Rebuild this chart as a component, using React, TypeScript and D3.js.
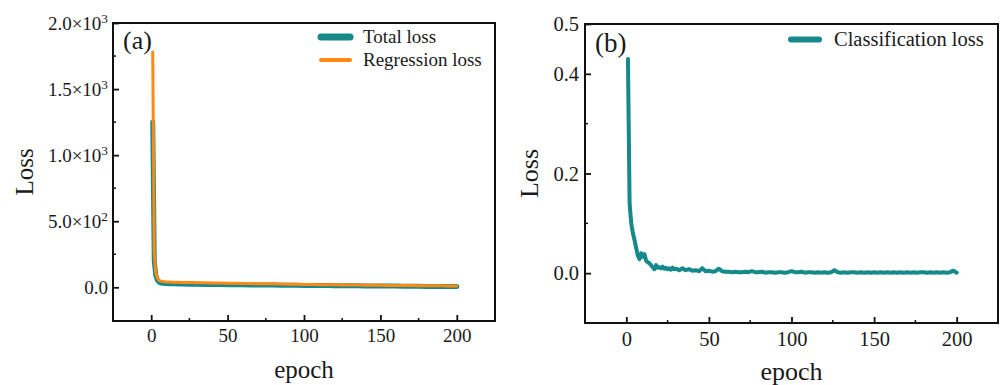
import * as d3 from 'd3';
import { useEffect, useRef } from 'react';

const TEAL = '#16898a';
const ORANGE = '#ff8912';
const FONT = '"Liberation Serif", "Times New Roman", serif';

// panel (a): total / regression loss, sampled epochs
const regEpochs = [1, 2, 3, 4, 5, 6, 7, 8, 9, 10, 12, 14, 16, 18, 20, 25, 30, 35, 40, 45, 50, 55, 60, 65, 70, 75, 80, 85, 90, 95, 100,
  105, 110, 115, 120, 125, 130, 135, 140, 145, 150, 155, 160, 165, 170, 175, 180, 185, 190, 195, 200];
const totalLoss = [1250, 200, 90, 55, 40, 34, 31, 30, 29, 28, 27, 26, 26, 25, 25, 24, 23, 22, 22, 21, 20, 20, 19, 18, 18, 17, 17, 16, 15, 15, 14,
  14, 13, 13, 12, 12, 11, 11, 10, 10, 9, 9, 9, 8, 8, 8, 7, 7, 6, 6, 6];
const regressionLoss = [1780, 260, 110, 70, 55, 48, 45, 43, 42, 41, 40, 39, 38, 38, 37, 36, 35, 34, 33, 32, 31, 30, 29, 28, 27, 27, 26, 25, 24, 23, 22,
  21, 20, 20, 19, 18, 18, 17, 16, 16, 15, 14, 14, 13, 13, 12, 12, 11, 11, 10, 10];
const aYTicks = [0, 500, 1000, 1500, 2000];
const aYMinor = [250, 750, 1250, 1750];

// panel (b): classification loss
const clsEpochs = [1, 2, 3, 4, 5, 6, 7, 8, 9, 10, 11, 12, 13, 14, 15, 16, 17, 18, 19, 20, 21, 22, 23, 24, 25, 26, 27, 28, 29, 30,
  32, 34, 36, 38, 40, 42, 44, 46, 48, 50, 52, 54, 56, 58, 60, 62, 64, 66, 68, 70, 72, 74, 76, 78, 80, 82, 84, 86, 88, 90,
  92, 94, 96, 98, 100, 102, 104, 106, 108, 110, 112, 114, 116, 118, 120, 122, 124, 126, 128, 130, 132, 134, 136, 138, 140,
  142, 144, 146, 148, 150, 152, 154, 156, 158, 160, 162, 164, 166, 168, 170, 172, 174, 176, 178, 180, 182, 184, 186, 188, 190,
  192, 194, 196, 198, 200];
const clsLoss = [0.43, 0.14, 0.1, 0.08, 0.066, 0.05, 0.035, 0.028, 0.04, 0.033, 0.038, 0.025, 0.022, 0.02, 0.016, 0.012, 0.008, 0.016, 0.011, 0.012,
  0.01, 0.013, 0.009, 0.011, 0.008, 0.01, 0.007, 0.011, 0.008, 0.009,
  0.006, 0.01, 0.006, 0.008, 0.005, 0.006, 0.004, 0.01, 0.004, 0.005, 0.003, 0.004, 0.009, 0.004, 0.003, 0.003, 0.002, 0.003, 0.002, 0.002,
  0.003, 0.002, 0.004, 0.002, 0.002, 0.003, 0.001, 0.002, 0.002, 0.001,
  0.002, 0.002, 0.001, 0.002, 0.004, 0.002, 0.002, 0.003, 0.001, 0.002, 0.002, 0.001, 0.002, 0.001, 0.002, 0.001, 0.002, 0.006, 0.002, 0.001,
  0.002, 0.001, 0.002, 0.002, 0.001, 0.002, 0.001, 0.002, 0.001, 0.002, 0.001, 0.002, 0.001, 0.002, 0.001, 0.002, 0.001, 0.002, 0.001, 0.002,
  0.001, 0.002, 0.001, 0.002, 0.002, 0.001, 0.002, 0.001, 0.002, 0.001, 0.002, 0.001, 0.002, 0.005, 0.001];
const bYTicks = [0, 0.2, 0.4, 0.5];
const bYMinor = [0.1, 0.3];

const xTicks = [0, 50, 100, 150, 200];
const xMinor = [25, 75, 125, 175];

function drawPanel(svg: any, c: any) {
  const x = d3.scaleLinear().domain([-25, 225]).range([c.left, c.right]);
  const y = d3.scaleLinear().domain(c.yDomain).range([c.bottom, c.top]);
  const g = svg.append('g');

  // minor ticks first
  g.selectAll('.mx').data(xMinor).enter().append('line')
    .attr('x1', (d: number) => x(d)).attr('x2', (d: number) => x(d))
    .attr('y1', c.bottom).attr('y2', c.bottom - 3).attr('stroke', '#111').attr('stroke-width', 1.5);
  g.selectAll('.my').data(c.yMinor).enter().append('line')
    .attr('y1', (d: number) => y(d)).attr('y2', (d: number) => y(d))
    .attr('x1', c.left).attr('x2', c.left + 3).attr('stroke', '#111').attr('stroke-width', 1.5);

  const ax = g.append('g').attr('transform', `translate(0,${c.bottom})`)
    .call(d3.axisBottom(x).tickValues(xTicks).tickSize(-6).tickPadding(c.xPad).tickFormat(d3.format('d')));
  const ay = g.append('g').attr('transform', `translate(${c.left},0)`)
    .call(d3.axisLeft(y).tickValues(c.yTicks).tickSize(-6).tickPadding(c.yPad).tickFormat(d3.format('.1f')));
  [ax, ay].forEach(a => {
    a.select('.domain').remove();
    a.selectAll('line').attr('stroke', '#111').attr('stroke-width', 1.8);
    a.selectAll('text').attr('font-family', FONT).attr('font-size', c.fs).attr('fill', '#1a1a1a');
  });
  if (c.sci) {
    ay.selectAll('.tick text').each(function (this: any, d: any) {
      const t = d3.select(this).text(null);
      if (d === 0) { t.text('0.0'); return; }
      const e = Math.floor(Math.log10(d));
      t.append('tspan').text((d / Math.pow(10, e)).toFixed(1) + '×10');
      t.append('tspan').attr('dy', '-0.5em').attr('font-size', '0.7em').text(e);
    });
  }

  // frame
  g.append('rect').attr('x', c.left).attr('y', c.top)
    .attr('width', c.right - c.left).attr('height', c.bottom - c.top)
    .attr('fill', 'none').attr('stroke', '#111').attr('stroke-width', 2);

  const line = d3.line<number>().x((_, i) => x(c.epochs[i])).y(d => y(d));
  c.series.forEach((s: any) => {
    g.append('path').attr('d', line(s.values)).attr('fill', 'none')
      .attr('stroke', s.color).attr('stroke-width', s.w)
      .attr('stroke-linejoin', 'round').attr('stroke-linecap', 'round');
  });

  // legend
  c.series.forEach((s: any, i: number) => {
    const ly = c.legY + i * c.legGap;
    g.append('line').attr('x1', c.legX).attr('x2', c.legX + c.legLen).attr('y1', ly).attr('y2', ly)
      .attr('stroke', s.color).attr('stroke-width', s.lw).attr('stroke-linecap', 'round');
    g.append('text').attr('x', c.legX + c.legLen + c.legTextGap).attr('y', ly + c.fs * 0.33)
      .attr('font-family', FONT).attr('font-size', c.fs).attr('fill', '#1a1a1a').text(s.name);
  });

  g.append('text').attr('x', c.left + 10).attr('y', c.tagY).attr('font-family', FONT)
    .attr('font-size', c.tagFs).attr('fill', '#1a1a1a').text(c.tag);
  g.append('text').attr('x', (c.left + c.right) / 2).attr('y', c.xLabY).attr('text-anchor', 'middle')
    .attr('font-family', FONT).attr('font-size', c.labFs).attr('fill', '#1a1a1a').text('epoch');
  g.append('text').attr('transform', `translate(${c.yLabX},${(c.top + c.bottom) / 2}) rotate(-90)`)
    .attr('text-anchor', 'middle').attr('font-family', FONT).attr('font-size', c.labFs)
    .attr('fill', '#1a1a1a').text('Loss');
}

function makeChart(el: SVGSVGElement) {
  const svg = d3.select(el);
  svg.selectAll('*').remove();

  drawPanel(svg, {
    left: 113, right: 495, top: 23, bottom: 321, yDomain: [-255, 2000],
    yTicks: aYTicks, yMinor: aYMinor, sci: true, fs: 19, xPad: 8, yPad: 5,
    epochs: regEpochs,
    series: [
      { name: 'Total loss', values: totalLoss, color: TEAL, w: 5, lw: 7 },
      { name: 'Regression loss', values: regressionLoss, color: ORANGE, w: 3, lw: 4 },
    ],
    legX: 321, legLen: 29, legTextGap: 13, legY: 37, legGap: 23,
    tag: '(a)', tagY: 49, tagFs: 26, xLabY: 378, yLabX: 33, labFs: 25,
  });

  drawPanel(svg, {
    left: 585, right: 998, top: 24, bottom: 323, yDomain: [-0.1, 0.5],
    yTicks: bYTicks, yMinor: bYMinor, sci: false, fs: 20.5, xPad: 8, yPad: 6,
    epochs: clsEpochs,
    series: [
      { name: 'Classification loss', values: clsLoss, color: TEAL, w: 4, lw: 6 },
    ],
    legX: 791, legLen: 28, legTextGap: 15, legY: 39.5, legGap: 24,
    tag: '(b)', tagY: 52, tagFs: 27, xLabY: 380, yLabX: 538, labFs: 26,
  });
}

function App() {
  const ref = useRef<SVGSVGElement>(null);
  useEffect(() => {
    if (ref.current) makeChart(ref.current);
  }, []);
  return (
    <svg ref={ref} width={1001} height={385}
      style={{ position: 'absolute', left: 0, top: 0, background: '#fff' }} />
  );
}

export default App;
